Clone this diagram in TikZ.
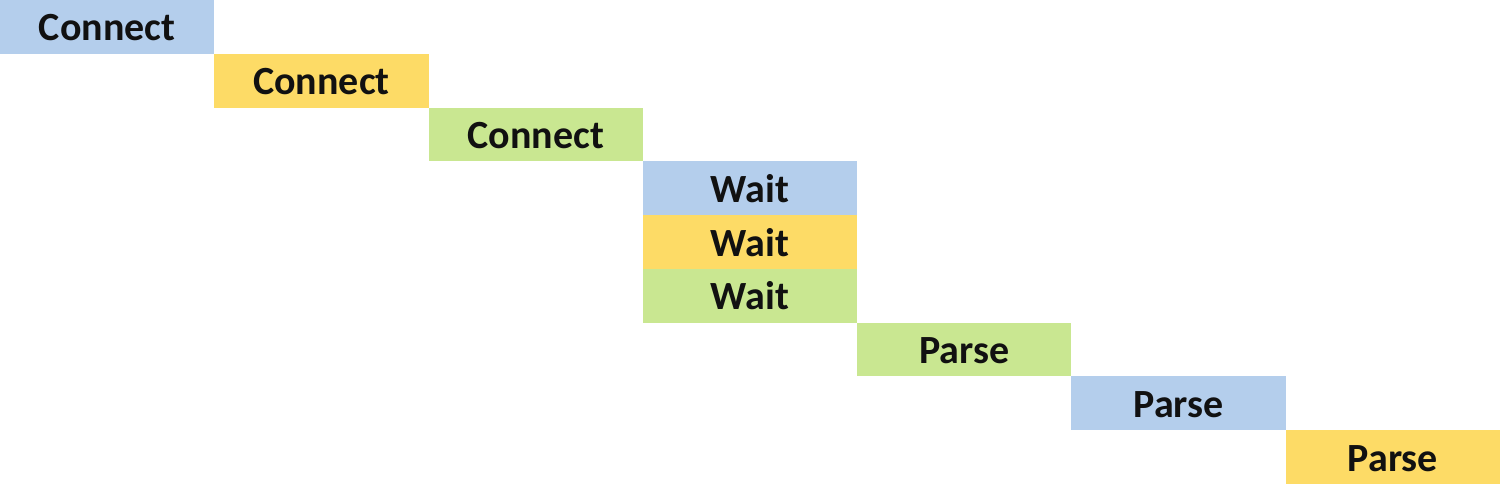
\documentclass[tikz,border=0pt]{standalone}
\usepackage{fontspec}
\setmainfont{Carlito}
\definecolor{cblue}{HTML}{B4CEEC}
\definecolor{cyellow}{HTML}{FDDB66}
\definecolor{cgreen}{HTML}{C9E791}
\definecolor{ctext}{HTML}{111111}
\begin{document}
\begin{tikzpicture}[x=1pt,y=-1pt,
  cell/.style={minimum width=214.3pt,minimum height=53.8pt,inner sep=0pt,outer sep=0pt,
    font=\fontsize{40}{40}\selectfont\bfseries,text=ctext,anchor=north west,
    text height=28pt,text depth=0pt}]
\useasboundingbox (0,0) rectangle (1500,484);
\def\W{214.286}\def\H{53.78}
\node[cell,fill=cblue]   (c1) at (0*\W,0*\H) {Connect};
\node[cell,fill=cyellow] (c2) at (1*\W,1*\H) {Connect};
\node[cell,fill=cgreen]  (c3) at (2*\W,2*\H) {Connect};
\node[cell,fill=cblue]   (w1) at (3*\W,3*\H) {Wait};
\node[cell,fill=cyellow] (w2) at (3*\W,4*\H) {Wait};
\node[cell,fill=cgreen]  (w3) at (3*\W,5*\H) {Wait};
\node[cell,fill=cgreen]  (p3) at (4*\W,6*\H) {Parse};
\node[cell,fill=cblue]   (p1) at (5*\W,7*\H) {Parse};
\node[cell,fill=cyellow] (p2) at (6*\W,8*\H) {Parse};
\end{tikzpicture}
\end{document}
